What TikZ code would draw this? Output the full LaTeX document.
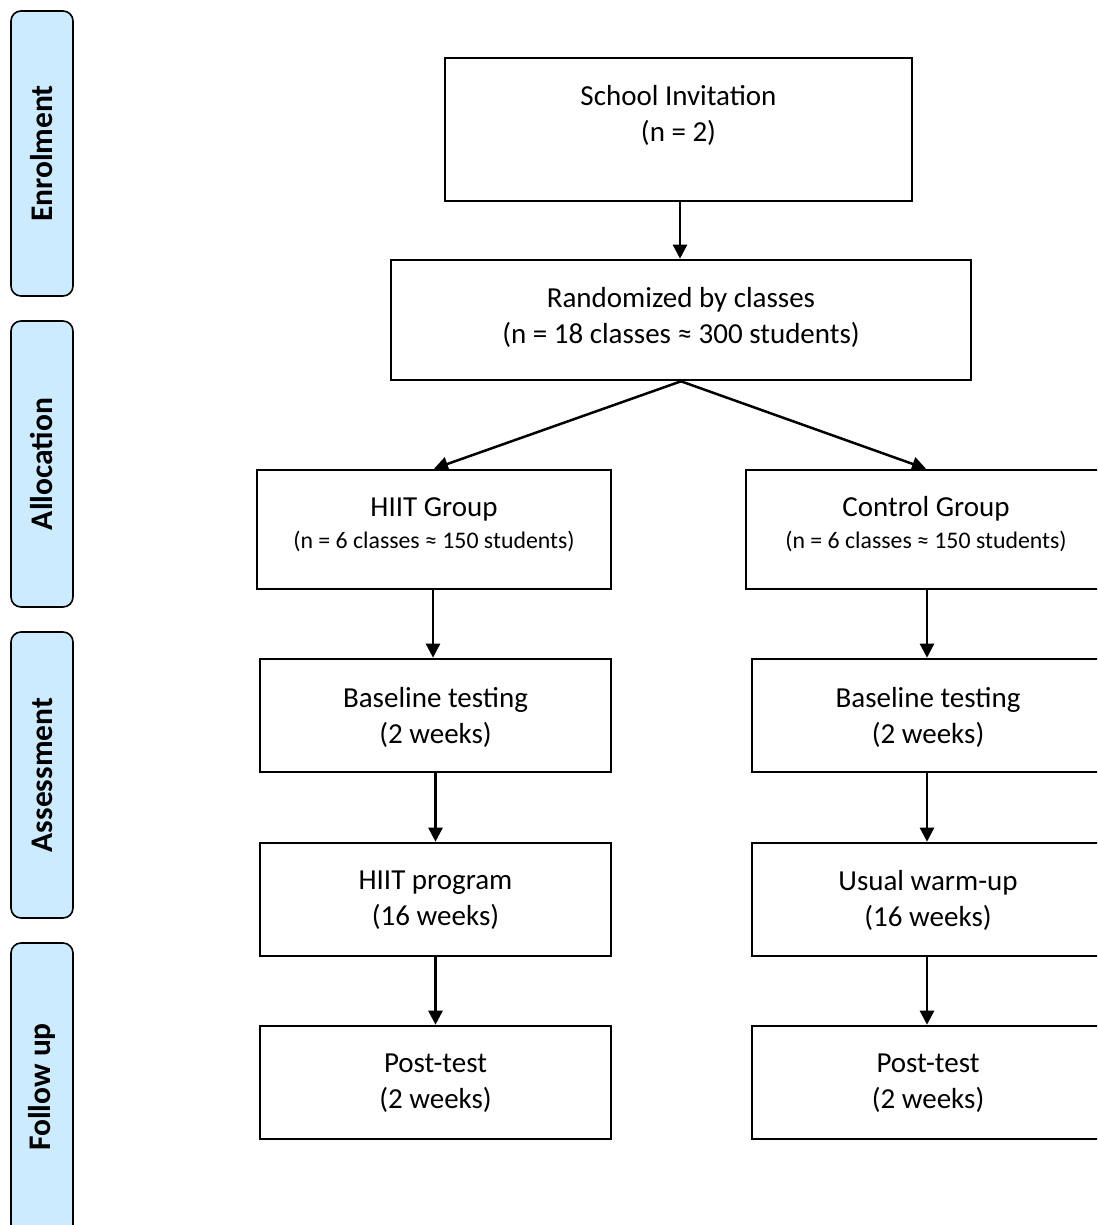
\documentclass[tikz,border=0pt]{standalone}
\usepackage{fontspec}
\setmainfont{Carlito}
\usetikzlibrary{arrows.meta}
\begin{document}
\begin{tikzpicture}[x=1pt,y=-1pt,
  box/.style={draw=black, line width=2.6pt, fill=white, inner sep=0pt},
  txt/.style={align=center, font=\fontsize{29}{36}\selectfont, inner sep=0pt},
  sml/.style={align=center, font=\fontsize{23.8}{32}\selectfont, inner sep=0pt},
  phase/.style={draw=black, line width=1.6pt, fill=phaseblue, rounded corners=10pt, inner sep=0pt, minimum width=62pt},
  phtxt/.style={font=\bfseries\fontsize{31.5}{34}\selectfont, rotate=90, inner sep=0pt},
  arr/.style={line width=2.5pt, -{Triangle[length=14pt,width=14pt]}}
]
\definecolor{phaseblue}{HTML}{CCEBFF}
\useasboundingbox (0,0) rectangle (1097,1225);
\clip (0,0) rectangle (1097,1225);
% phase labels
\node[phase, minimum height=285pt] (enr) at (42,153.5) {};
\node[phtxt] (enrt) at (enr.center) {Enrolment};
\node[phase, minimum height=286pt] (all) at (42,464) {};
\node[phtxt] (allt) at (all.center) {Allocation};
\node[phase, minimum height=286pt] (ass) at (42,775) {};
\node[phtxt] (asst) at (ass.center) {Assessment};
\node[phase, minimum height=300pt] (fol) at (42,1093) {};
\node[phtxt] (folt) at (42,1087) {Follow up};
% boxes
\node[box, minimum width=467pt, minimum height=143pt] (inv) at (678.5,129.5) {};
\node[txt] (invt) at (678.5,115) {School Invitation\\(n = 2)};
\node[box, minimum width=580pt, minimum height=120pt] (rnd) at (681,320) {};
\node[txt] (rndt) at (681,317) {Randomized by classes\\(n = 18 classes ≈ 300 students)};
\node[box, minimum width=354pt, minimum height=119pt] (hg) at (434,529.5) {};
\node[txt] (hgt) at (434,509) {HIIT Group};
\node[sml] (hgs) at (434,541) {(n = 6 classes ≈ 150 students)};
\node[box, minimum width=360pt, minimum height=119pt] (cg) at (926,529.5) {};
\node[txt] (cgt) at (926,509) {Control Group};
\node[sml] (cgs) at (926,541) {(n = 6 classes ≈ 150 students)};
\node[box, minimum width=351pt, minimum height=113pt] (bl) at (435.5,715.5) {};
\node[txt] (blt) at (435.5,717) {Baseline testing\\(2 weeks)};
\node[box, minimum width=352pt, minimum height=113pt] (br) at (928,715.5) {};
\node[txt] (brt) at (928,717) {Baseline testing\\(2 weeks)};
\node[box, minimum width=351pt, minimum height=113pt] (hp) at (435.5,899.5) {};
\node[txt] (hpt) at (435.5,900) {HIIT program\\(16 weeks)};
\node[box, minimum width=352pt, minimum height=113pt] (uw) at (928,899.5) {};
\node[txt] (uwt) at (928,900) {Usual warm-up\\(16 weeks)};
\node[box, minimum width=351pt, minimum height=113pt] (pl) at (435.5,1082.5) {};
\node[txt] (plt) at (435.5,1083) {Post-test\\(2 weeks)};
\node[box, minimum width=352pt, minimum height=113pt] (pr) at (928,1082.5) {};
\node[txt] (prt) at (928,1083) {Post-test\\(2 weeks)};
% arrows
\draw[arr] (inv.south -| 680,0) -- (rnd.north -| 680,0);
\draw[arr] (rnd.south) -- (hg.north);
\draw[arr] (rnd.south) -- (cg.north);
\draw[arr] (hg.south -| 433,0) -- (bl.north -| 433,0);
\draw[arr] (cg.south -| 927,0) -- (br.north -| 927,0);
\draw[arr] (bl.south) -- (hp.north);
\draw[arr] (br.south -| 927,0) -- (uw.north -| 927,0);
\draw[arr] (hp.south) -- (pl.north);
\draw[arr] (uw.south -| 927,0) -- (pr.north -| 927,0);
\end{tikzpicture}
\end{document}
